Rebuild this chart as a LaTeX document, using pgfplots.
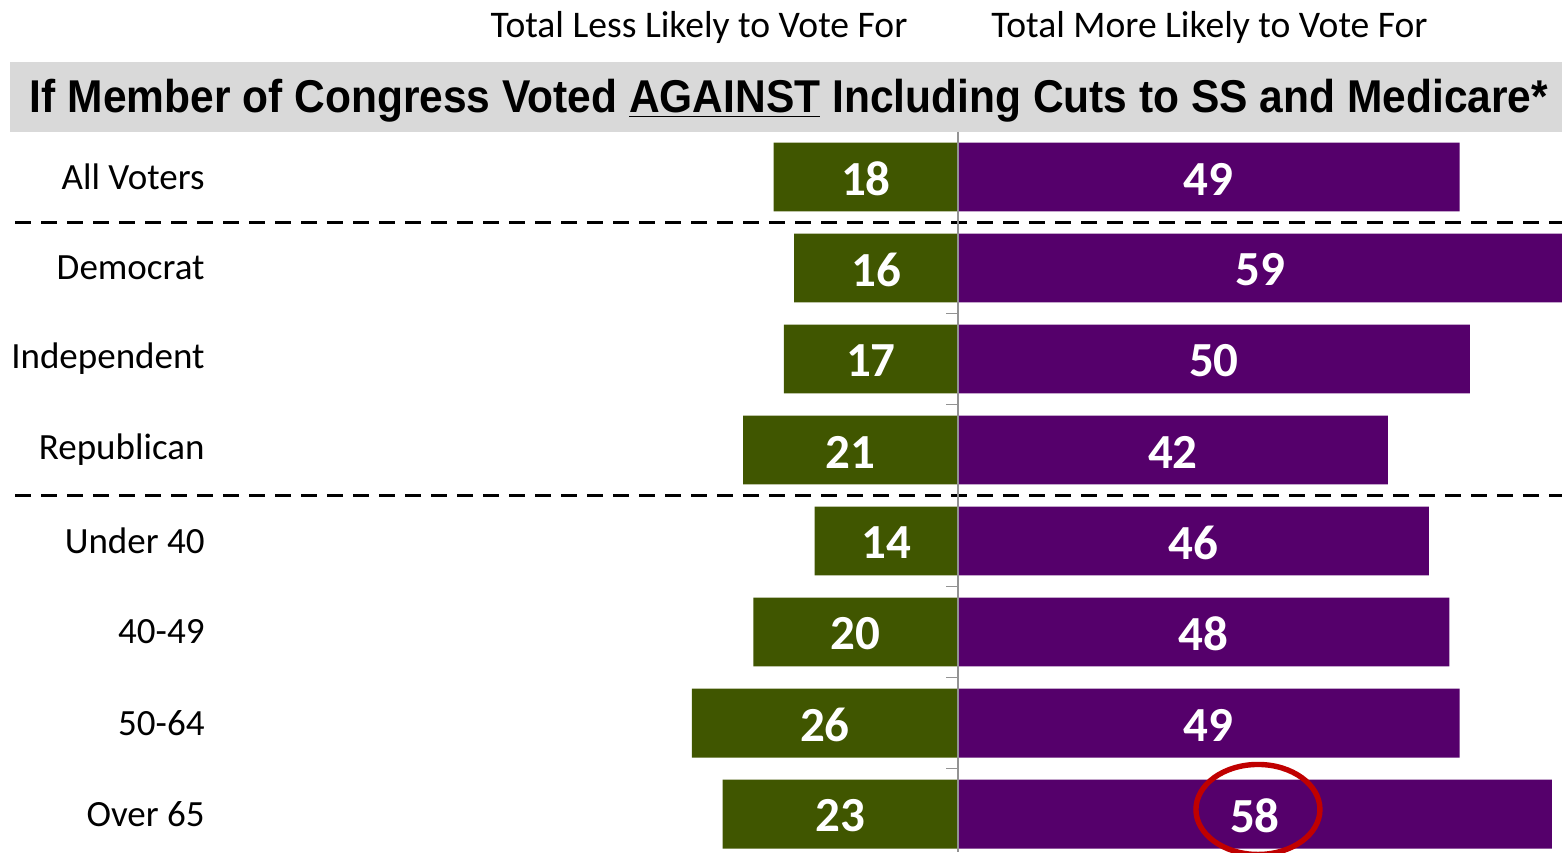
\documentclass[border=0pt]{standalone}
\usepackage{pgfplots}
\pgfplotsset{compat=1.18}
\usepackage{fontspec}
\setmainfont{Carlito}
\newfontfamily\arialfont{Liberation Sans}
\definecolor{cgreen}{RGB}{64,86,0}
\definecolor{cpurple}{RGB}{85,0,107}
\definecolor{cband}{RGB}{217,217,217}
\definecolor{cred}{RGB}{192,0,0}
\begin{document}
\begin{tikzpicture}
% header band
\fill[cband] (5pt,360pt) rectangle (781pt,395pt);
\node[anchor=base] at (394.5pt,369.5pt) {\resizebox{759pt}{\height}{\arialfont\bfseries\fontsize{23}{26}\selectfont If Member of Congress Voted \underline{AGAINST} Including Cuts to SS and Medicare*}};
\node[anchor=base] at (349.5pt,407pt) {\fontsize{18.8}{22}\selectfont Total Less Likely to Vote For};
\node[anchor=base] at (604.75pt,407pt) {\fontsize{18.8}{22}\selectfont Total More Likely to Vote For};
\begin{axis}[
  at={(0,0)}, anchor=south west,
  scale only axis, width=781pt, height=360pt,
  xmin=-93.58, xmax=59, ymin=-0.4945, ymax=7.4176,
  y dir=reverse,
  axis line style={draw=none},
  xtick=\empty, ytick=\empty,
  clip=true,
]
\addplot[xbar, bar width=0.758, bar shift=0pt, fill=cgreen, draw=none] coordinates {
 (-18,0) (-16,1) (-17,2) (-21,3) (-14,4) (-20,5) (-26,6) (-23,7)};
\addplot[xbar, bar width=0.758, bar shift=0pt, fill=cpurple, draw=none] coordinates {
 (49,0) (59,1) (50,2) (42,3) (46,4) (48,5) (49,6) (58,7)};
% value labels (centered in bars)
\addplot[draw=none, mark=none, nodes near coords, point meta=explicit symbolic,
  nodes near coords style={anchor=center, text=white, font=\bfseries\fontsize{24.5}{28}\selectfont, yshift=-1pt}]
 coordinates {(-9,0)[18] (-8,1)[16] (-8.5,2)[17] (-10.5,3)[21] (-7,4)[14] (-10,5)[20] (-13,6)[26] (-11.5,7)[23]
   (24.5,0)[49] (29.5,1)[59] (25,2)[50] (21,3)[42] (23,4)[46] (24,5)[48] (24.5,6)[49] (29,7)[58]};
% category labels
\addplot[draw=none, mark=none, nodes near coords, point meta=explicit symbolic,
  nodes near coords style={anchor=east, text=black, font=\fontsize{18.5}{22}\selectfont, inner sep=0pt}]
 coordinates {(-73.56,0)[All Voters] (-73.56,1)[Democrat] (-73.56,2)[Independent] (-73.56,3)[Republican]
   (-73.56,4)[Under 40] (-73.56,5)[40-49] (-73.56,6)[50-64] (-73.56,7)[Over 65]};
% dashed separators
\draw[black, line width=1.5pt, dash pattern=on 8pt off 5pt] (axis cs:-92.1,0.5) -- (axis cs:59,0.5);
\draw[black, line width=1.5pt, dash pattern=on 8pt off 5pt] (axis cs:-92.1,3.5) -- (axis cs:59,3.5);
% small ticks
\draw[gray!85, line width=0.8pt] (axis cs:-1.17,1.5) -- (axis cs:0,1.5);
\draw[gray!85, line width=0.8pt] (axis cs:-1.17,2.5) -- (axis cs:0,2.5);
\draw[gray!85, line width=0.8pt] (axis cs:-1.17,4.5) -- (axis cs:0,4.5);
\draw[gray!85, line width=0.8pt] (axis cs:-1.17,5.5) -- (axis cs:0,5.5);
\draw[gray!85, line width=0.8pt] (axis cs:-1.17,6.5) -- (axis cs:0,6.5);
% zero axis
\draw[gray!85, line width=1pt] (axis cs:0,-0.4945) -- (axis cs:0,7.4176);
% highlight ellipse
\draw[cred, line width=2.7pt] (axis cs:29.3,6.95) ellipse [x radius=31pt, y radius=22.5pt];
\end{axis}
\pgfresetboundingbox
\useasboundingbox (0,0) rectangle (781pt,426pt);
\end{tikzpicture}
\end{document}
